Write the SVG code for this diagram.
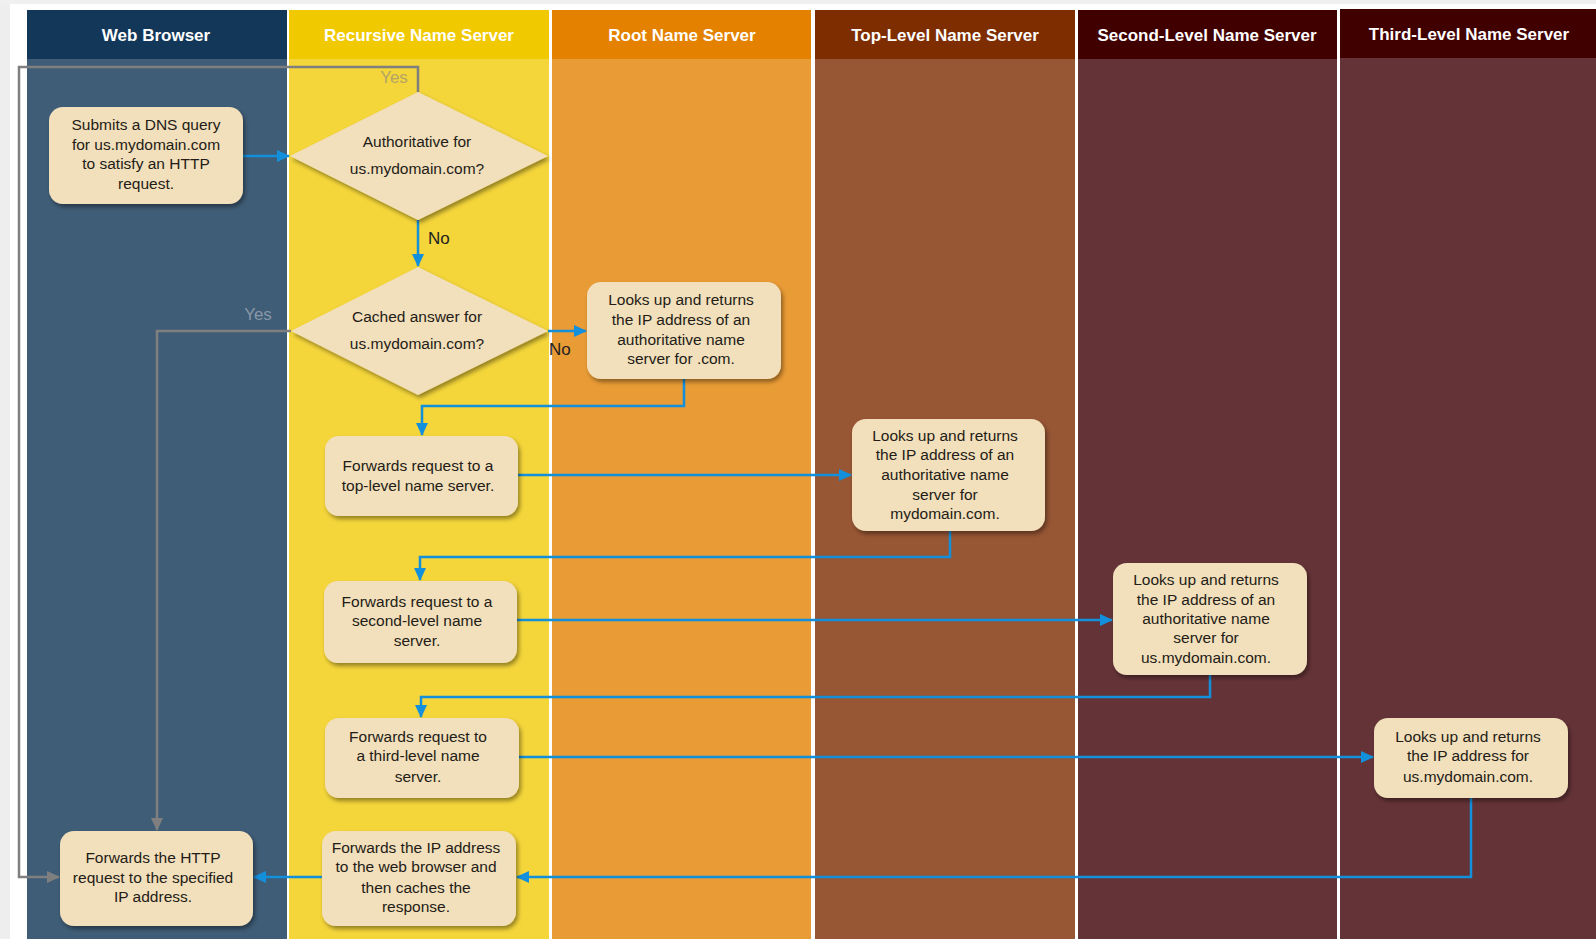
<svg xmlns="http://www.w3.org/2000/svg" width="1596" height="939" viewBox="0 0 1596 939">
  <style>
    .hdr { font-family: "Liberation Sans", Arial, sans-serif; font-weight: bold; font-size: 17px; fill: #ffffff; text-anchor: middle; }
    .node rect, .node polygon { fill: #f2dfbb; filter: url(#shadow); }
    .node text { font-family: "Liberation Sans", Arial, sans-serif; font-size: 15.5px; fill: #231c17; text-anchor: middle; }
    .flow { fill: none; stroke: #1390dc; stroke-width: 2.5; marker-end: url(#arrowBlue); }
    .alt { fill: none; stroke: #7f7f7f; stroke-width: 2.5; marker-end: url(#arrowGray); }
    .lbl { font-family: "Liberation Sans", Arial, sans-serif; font-size: 17px; }
  </style>
  <defs>
    <filter id="shadow" x="-10%" y="-10%" width="125%" height="130%">
      <feDropShadow dx="2" dy="3" stdDeviation="2.2" flood-color="#000" flood-opacity="0.4"/>
    </filter>
    <marker id="arrowBlue" markerWidth="13" markerHeight="12" refX="12" refY="6" orient="auto" markerUnits="userSpaceOnUse">
      <path d="M0,0 L13,6 L0,12 Z" fill="#1390dc"/>
    </marker>
    <marker id="arrowGray" markerWidth="13" markerHeight="12" refX="12" refY="6" orient="auto" markerUnits="userSpaceOnUse">
      <path d="M0,0 L13,6 L0,12 Z" fill="#7f7f7f"/>
    </marker>
  </defs>

  <!-- page -->
  <rect x="0" y="0" width="1596" height="939" fill="#ffffff"/>
  <rect x="0" y="0" width="10" height="939" fill="#eeeeee"/>
  <rect x="0" y="0" width="1596" height="4" fill="#f0f0f0"/>

  <!-- swimlanes -->
  <g id="lanes">
    <g id="lane-browser">
      <rect x="27" y="59" width="260" height="880" fill="#3f5d77"/>
      <rect x="27" y="10" width="260" height="49" fill="#133758"/>
      <text class="hdr" x="156" y="41">Web Browser</text>
    </g>
    <g id="lane-recursive">
      <rect x="289" y="59" width="260" height="880" fill="#f4d53a"/>
      <rect x="289" y="10" width="260" height="49" fill="#f1c900"/>
      <text class="hdr" x="419" y="41">Recursive Name Server</text>
    </g>
    <g id="lane-root">
      <rect x="552" y="59" width="259" height="880" fill="#e99b35"/>
      <rect x="552" y="10" width="259" height="49" fill="#e48100"/>
      <text class="hdr" x="682" y="41">Root Name Server</text>
    </g>
    <g id="lane-tld">
      <rect x="815" y="59" width="260" height="880" fill="#975634"/>
      <rect x="815" y="10" width="260" height="49" fill="#7e2d00"/>
      <text class="hdr" x="945" y="41">Top-Level Name Server</text>
    </g>
    <g id="lane-second">
      <rect x="1078" y="59" width="259" height="880" fill="#643337"/>
      <rect x="1078" y="10" width="259" height="49" fill="#410000"/>
      <text class="hdr" x="1207" y="41">Second-Level Name Server</text>
    </g>
    <g id="lane-third">
      <rect x="1340" y="58" width="256" height="881" fill="#643337"/>
      <rect x="1340" y="9" width="256" height="49" fill="#410000"/>
      <text class="hdr" x="1469" y="40">Third-Level Name Server</text>
    </g>
  </g>

  <!-- connectors -->
  <g id="connectors">
    <path class="alt" d="M418,92 V67 H19 V877 H59"/>
    <path class="alt" d="M291,331 H157 V830"/>
    <path class="flow" d="M243,156 H289"/>
    <path class="flow" d="M418,220 V266"/>
    <path class="flow" d="M548,331 H586"/>
    <path class="flow" d="M684,379 V406 H422 V435"/>
    <path class="flow" d="M518,475 H851"/>
    <path class="flow" d="M950,531 V557 H420 V580"/>
    <path class="flow" d="M517,620 H1112"/>
    <path class="flow" d="M1210,675 V697 H421 V717"/>
    <path class="flow" d="M519,757 H1373"/>
    <path class="flow" d="M1471,798 V877 H517"/>
    <path class="flow" d="M322,877 H254"/>
    <text class="lbl" x="394" y="83" text-anchor="middle" fill="#b3a465">Yes</text>
    <text class="lbl" x="258" y="320" text-anchor="middle" fill="#8797a8">Yes</text>
    <text class="lbl" x="428" y="244" fill="#222222">No</text>
    <text class="lbl" x="549" y="355" fill="#222222">No</text>
  </g>

  <!-- nodes -->
  <g id="submit-query" class="node">
    <rect x="49" y="107" width="194" height="97" rx="14"/>
    <text x="146" y="130">Submits a DNS query</text>
    <text x="146" y="149.5">for us.mydomain.com</text>
    <text x="146" y="169">to satisfy  an HTTP</text>
    <text x="146" y="189">request.</text>
  </g>
  <g id="authoritative-check" class="node">
    <polygon points="290,156 418,92 548,156 418,220"/>
    <text x="417" y="146.5">Authoritative for</text>
    <text x="417" y="174">us.mydomain.com?</text>
  </g>
  <g id="cache-check" class="node">
    <polygon points="291,331 418,267 548,331 418,395"/>
    <text x="417" y="321.6">Cached answer for</text>
    <text x="417" y="349">us.mydomain.com?</text>
  </g>
  <g id="root-lookup" class="node">
    <rect x="587" y="282" width="194" height="97" rx="14"/>
    <text x="681" y="305">Looks up and returns</text>
    <text x="681" y="325">the IP address of an</text>
    <text x="681" y="345">authoritative name</text>
    <text x="681" y="364">server for .com.</text>
  </g>
  <g id="forward-tld" class="node">
    <rect x="325" y="436" width="193" height="80" rx="14"/>
    <text x="418" y="471">Forwards request to a</text>
    <text x="418" y="490.6">top-level name server.</text>
  </g>
  <g id="tld-lookup" class="node">
    <rect x="852" y="419" width="193" height="112" rx="14"/>
    <text x="945" y="441">Looks up and returns</text>
    <text x="945" y="460">the IP address of an</text>
    <text x="945" y="480">authoritative name</text>
    <text x="945" y="500">server for</text>
    <text x="945" y="519">mydomain.com.</text>
  </g>
  <g id="forward-second" class="node">
    <rect x="324" y="581" width="193" height="82" rx="14"/>
    <text x="417" y="606.6">Forwards request to a</text>
    <text x="417" y="626">second-level name</text>
    <text x="417" y="646">server.</text>
  </g>
  <g id="second-lookup" class="node">
    <rect x="1113" y="563" width="194" height="112" rx="14"/>
    <text x="1206" y="585">Looks up and returns</text>
    <text x="1206" y="604.5">the IP address of an</text>
    <text x="1206" y="624">authoritative name</text>
    <text x="1206" y="643">server for</text>
    <text x="1206" y="662.5">us.mydomain.com.</text>
  </g>
  <g id="forward-third" class="node">
    <rect x="325" y="718" width="194" height="80" rx="14"/>
    <text x="418" y="742">Forwards request to</text>
    <text x="418" y="761">a third-level name</text>
    <text x="418" y="782">server.</text>
  </g>
  <g id="third-lookup" class="node">
    <rect x="1374" y="718" width="194" height="80" rx="14"/>
    <text x="1468" y="742">Looks up and returns</text>
    <text x="1468" y="761">the IP address for</text>
    <text x="1468" y="782">us.mydomain.com.</text>
  </g>
  <g id="return-ip" class="node">
    <rect x="322" y="831" width="194" height="95" rx="14"/>
    <text x="416" y="853">Forwards the IP address</text>
    <text x="416" y="872">to the web browser and</text>
    <text x="416" y="892.6">then caches the</text>
    <text x="416" y="912">response.</text>
  </g>
  <g id="send-http" class="node">
    <rect x="60" y="831" width="193" height="95" rx="14"/>
    <text x="153" y="863">Forwards the HTTP</text>
    <text x="153" y="882.5">request to the specified</text>
    <text x="153" y="902">IP address.</text>
  </g>
</svg>
